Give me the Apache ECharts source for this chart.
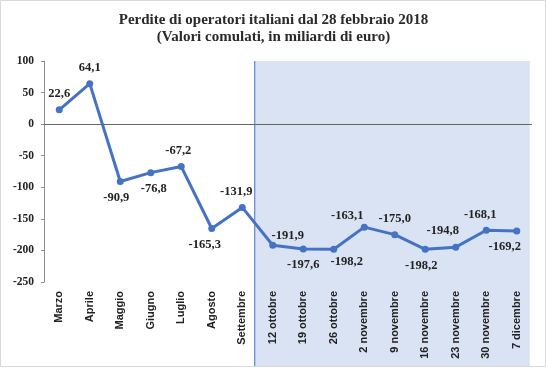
<!DOCTYPE html>
<html><head><meta charset="utf-8">
<script src="https://cdn.jsdelivr.net/npm/echarts@6/dist/echarts.min.js"></script>
<style>html,body{margin:0;padding:0;background:#fff}#c{width:547px;height:368px}</style>
</head><body><div id="c"></div>
<script>
const categories = ['Marzo','Aprile','Maggio','Giugno','Luglio','Agosto','Settembre','12 ottobre','19 ottobre','26 ottobre','2 novembre','9 novembre','16 novembre','23 novembre','30 novembre','7 dicembre'];
const values = [22.6, 64.1, -90.9, -76.8, -67.2, -165.3, -131.9, -191.9, -197.6, -198.2, -163.1, -175.0, -198.2, -194.8, -168.1, -169.2];
const labelPos = ['top','top','bottom','bottom','top','bottom','top','top','bottom','bottom','top','top','bottom','top','top','bottom'];
const labelShift = [[0,0],[0,0],[-4,0],[3,0],[-3,0],[-7,0],[-6,0],[15,6],[0,0],[13,-4],[-17,5],[0,0],[-4,0],[-13,0],[-6,0],[-12,0]];
const yTicks = { min: -250, max: 100, interval: 50 };
const shadeFrom = '12 ottobre';

const chart = echarts.init(document.getElementById('c'), null, {renderer:'canvas'});
const serif = '"Liberation Serif","DejaVu Serif",serif';
const data = values.map((v,i)=>({value:v, label:{position:labelPos[i], offset:labelShift[i]}}));
chart.setOption({
  animation:false,
  title:{text:'Perdite di operatori italiani dal 28 febbraio 2018\n(Valori comulati, in miliardi di euro)', left:'center', top:7,
    textStyle:{fontFamily:serif, fontWeight:'bold', fontSize:15, color:'#2a2a2a', lineHeight:17}},
  grid:{left:44, right:15, top:61, bottom:86},
  xAxis:{type:'category', data:categories, boundaryGap:true,
    axisLine:{show:false, onZero:false}, axisTick:{show:false},
    axisLabel:{rotate:90, interval:0, margin:9, fontFamily:'"Liberation Sans",Arial,sans-serif', fontWeight:'bold', fontSize:11, color:'#222'}},
  yAxis:{type:'value', min:yTicks.min, max:yTicks.max, interval:yTicks.interval,
    splitLine:{show:false}, axisLine:{show:true, lineStyle:{color:'#8c8c8c'}},
    axisTick:{show:true, length:3, lineStyle:{color:'#8c8c8c'}},
    axisLabel:{fontFamily:serif, fontWeight:'bold', fontSize:11.5, color:'#222', margin:10}},
  series:[{type:'line', data:data, symbol:'circle', symbolSize:7,
    lineStyle:{color:'#4472C4', width:3}, itemStyle:{color:'#4472C4'},
    label:{show:true, fontFamily:serif, fontWeight:'bold', fontSize:12.5, color:'#222', distance:6,
      formatter:p=>p.value.toFixed(1).replace('.',',')},
    markLine:{silent:true, symbol:'none', label:{show:false}, lineStyle:{color:'#666', width:1, type:'solid'}, data:[{yAxis:0}]},
    z:3}]
});
const x0 = chart.convertToPixel({xAxisIndex:0}, shadeFrom) - 18;
const xEnd = chart.convertToPixel({xAxisIndex:0}, categories[categories.length-1]) + 13;
const yTop = chart.convertToPixel({yAxisIndex:0}, yTicks.max);
chart.setOption({graphic:[
  {type:'rect', z:-10, shape:{x:x0, y:yTop, width:xEnd-x0, height:366-yTop}, style:{fill:'#dae3f3'}},
  {type:'line', z:-9, shape:{x1:x0, y1:yTop, x2:x0, y2:366}, style:{stroke:'#4472C4', lineWidth:1}},
  {type:'rect', z:-11, shape:{x:0.5, y:0.5, width:545, height:366}, style:{fill:null, stroke:'#d9d9d9', lineWidth:1}}
]});
</script></body></html>
